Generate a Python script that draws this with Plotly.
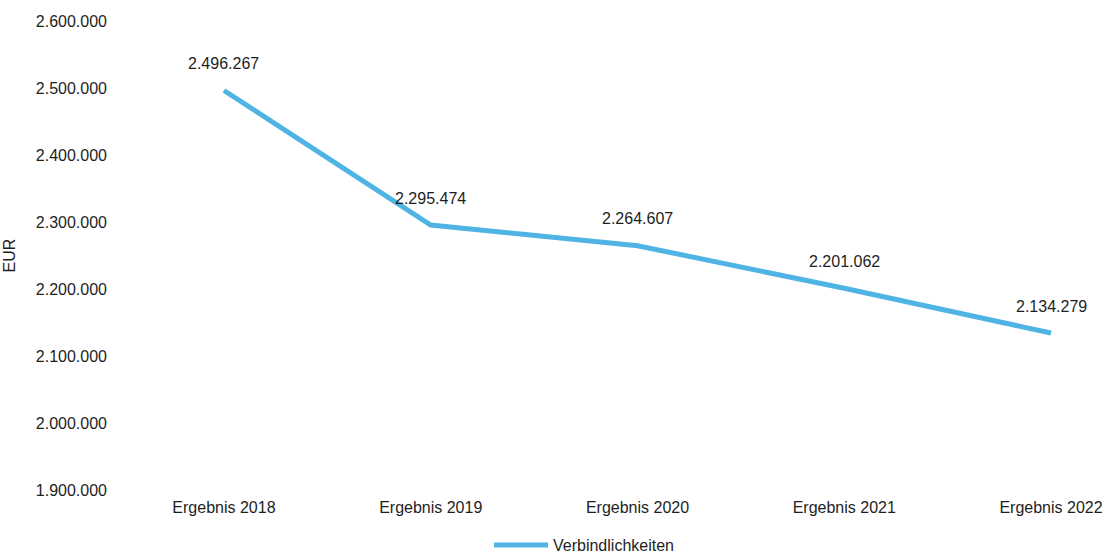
import plotly.graph_objects as go

# Verbindlichkeiten je Ergebnisjahr (EUR)
categories = ["Ergebnis 2018", "Ergebnis 2019", "Ergebnis 2020", "Ergebnis 2021", "Ergebnis 2022"]
verbindlichkeiten = [2496267, 2295474, 2264607, 2201062, 2134279]
y_ticks = [1900000, 2000000, 2100000, 2200000, 2300000, 2400000, 2500000, 2600000]
series_name = "Verbindlichkeiten"

LINE_COLOR = "#4fb3e4"
FONT = "Liberation Sans, Arial, sans-serif"
TEXT_COLOR = "#1e1e1e"

W, H = 1108, 556
M_L, M_R, M_T, M_B = 115, 8, 21, 66
PLOT_W = W - M_L - M_R
PLOT_H = H - M_T - M_B


def de_format(v):
    return f"{v:,}".replace(",", ".")


def px_x(px):
    return (px - M_L) / PLOT_W


def px_y(py):
    return (H - M_B - py) / PLOT_H


fig = go.Figure()
fig.add_trace(go.Scatter(
    x=categories,
    y=verbindlichkeiten,
    mode="lines",
    name=series_name,
    showlegend=False,
    line=dict(color=LINE_COLOR, width=5),
))

# value labels above each point
for cat, val in zip(categories, verbindlichkeiten):
    fig.add_annotation(
        x=cat, y=val, text=de_format(val), showarrow=False,
        yshift=27, font=dict(family=FONT, size=16, color=TEXT_COLOR),
    )

# legend entry below the chart: long line swatch plus series name
fig.add_shape(
    type="line", xref="paper", yref="paper",
    x0=px_x(494), x1=px_x(548), y0=px_y(545), y1=px_y(545),
    line=dict(color=LINE_COLOR, width=5),
)
fig.add_annotation(
    xref="paper", yref="paper", x=px_x(551), y=px_y(545),
    xanchor="left", yanchor="middle", text=series_name, showarrow=False,
    font=dict(family=FONT, size=16, color=TEXT_COLOR),
)

fig.update_layout(
    width=W, height=H,
    margin=dict(l=M_L, r=M_R, t=M_T, b=M_B, autoexpand=False),
    paper_bgcolor="white", plot_bgcolor="white",
    separators=",.",
    font=dict(family=FONT, size=16, color=TEXT_COLOR),
    showlegend=False,
    xaxis=dict(
        type="category", range=[-0.527, 4.237],
        showgrid=False, zeroline=False, showline=False, ticks="",
        ticklabelstandoff=6,
        tickfont=dict(family=FONT, size=16, color=TEXT_COLOR),
    ),
    yaxis=dict(
        title=dict(text="EUR", font=dict(family=FONT, size=16, color=TEXT_COLOR), standoff=16),
        range=[1900000, 2600000], tickvals=y_ticks,
        tickformat=",d",
        showgrid=False, zeroline=False, showline=False, ticks="",
        ticklabelstandoff=7,
        tickfont=dict(family=FONT, size=16, color=TEXT_COLOR),
    ),
)

fig.write_html("out.html")
